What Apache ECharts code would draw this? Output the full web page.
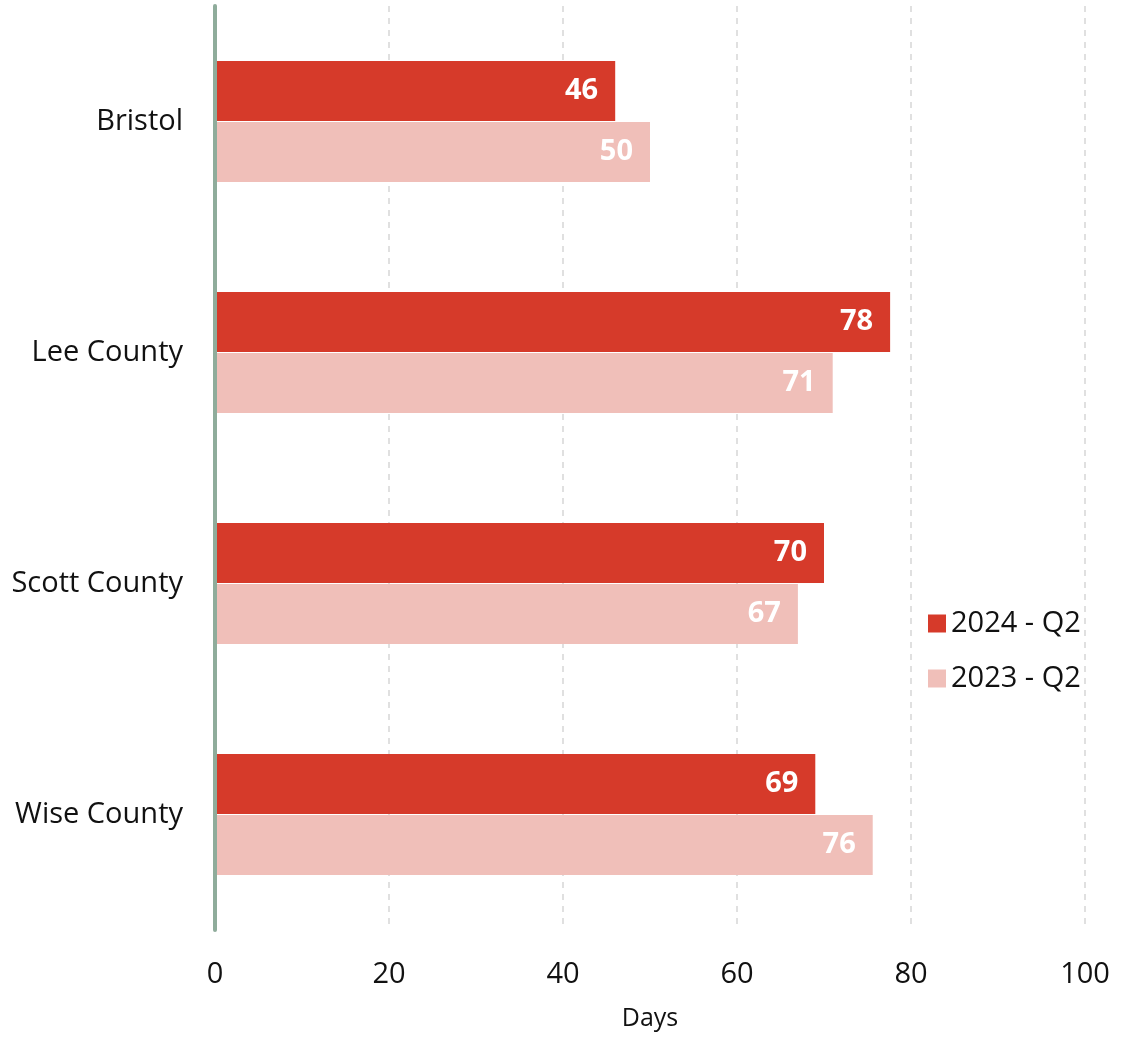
<!DOCTYPE html>
<html><head><meta charset="utf-8">
<script src="https://cdn.jsdelivr.net/npm/echarts@6/dist/echarts.min.js"></script>
<style>html,body{margin:0;padding:0;background:#fff}#c{width:1123px;height:1038px}</style>
</head><body><div id="c"></div>
<script>
const categories = ["Bristol", "Lee County", "Scott County", "Wise County"];
const series2024 = [46, 77.6, 70, 69];
const series2023 = [50, 71, 67, 75.6];
const xTicks = [0, 20, 40, 60, 80, 100];
const seriesNames = ["2024 - Q2", "2023 - Q2"];

const FONT = '"Open Sans", "Noto Sans", sans-serif';
const chart = echarts.init(document.getElementById('c'));
const lbl = {
  show: true, position: 'insideRight', distance: 17,
  color: '#fff', fontWeight: 'bold', fontSize: 29, fontFamily: FONT,
  formatter: p => Math.round(p.value)
};
chart.setOption({
  animation: false,
  textStyle: {fontFamily: FONT},
  grid: {left: 215, right: 38, top: 6, bottom: 108},
  legend: {
    orient: 'vertical', left: 923, top: 604,
    itemWidth: 18, itemHeight: 18, itemGap: 26, itemTextGap: 8,
    icon: 'rect',
    textStyle: {fontSize: 29, color: '#111', fontFamily: FONT},
    data: seriesNames
  },
  xAxis: {
    type: 'value', min: xTicks[0], max: xTicks[xTicks.length - 1], interval: 20,
    name: 'Days', nameLocation: 'middle', nameGap: 76,
    nameTextStyle: {fontSize: 25, color: '#111', fontFamily: FONT},
    axisLine: {show: false}, axisTick: {show: false},
    axisLabel: {fontSize: 29, color: '#111', margin: 30, fontFamily: FONT},
    splitLine: {show: true, lineStyle: {type: [6, 6], color: '#d6d6d6', width: 1.5}}
  },
  yAxis: {
    type: 'category', data: categories, inverse: true, z: 5,
    axisLine: {show: true, lineStyle: {color: '#8fac9b', width: 4}},
    axisTick: {show: false},
    axisLabel: {fontSize: 29, color: '#111', margin: 32, fontFamily: FONT}
  },
  series: [
    {name: seriesNames[0], type: 'bar', data: series2024, itemStyle: {color: '#d63a2a'},
     barWidth: 60, barGap: '2%', barCategoryGap: '48%', label: lbl},
    {name: seriesNames[1], type: 'bar', data: series2023, itemStyle: {color: '#f0bfb9'},
     barWidth: 60, barGap: '2%', label: lbl}
  ]
});
</script></body></html>
